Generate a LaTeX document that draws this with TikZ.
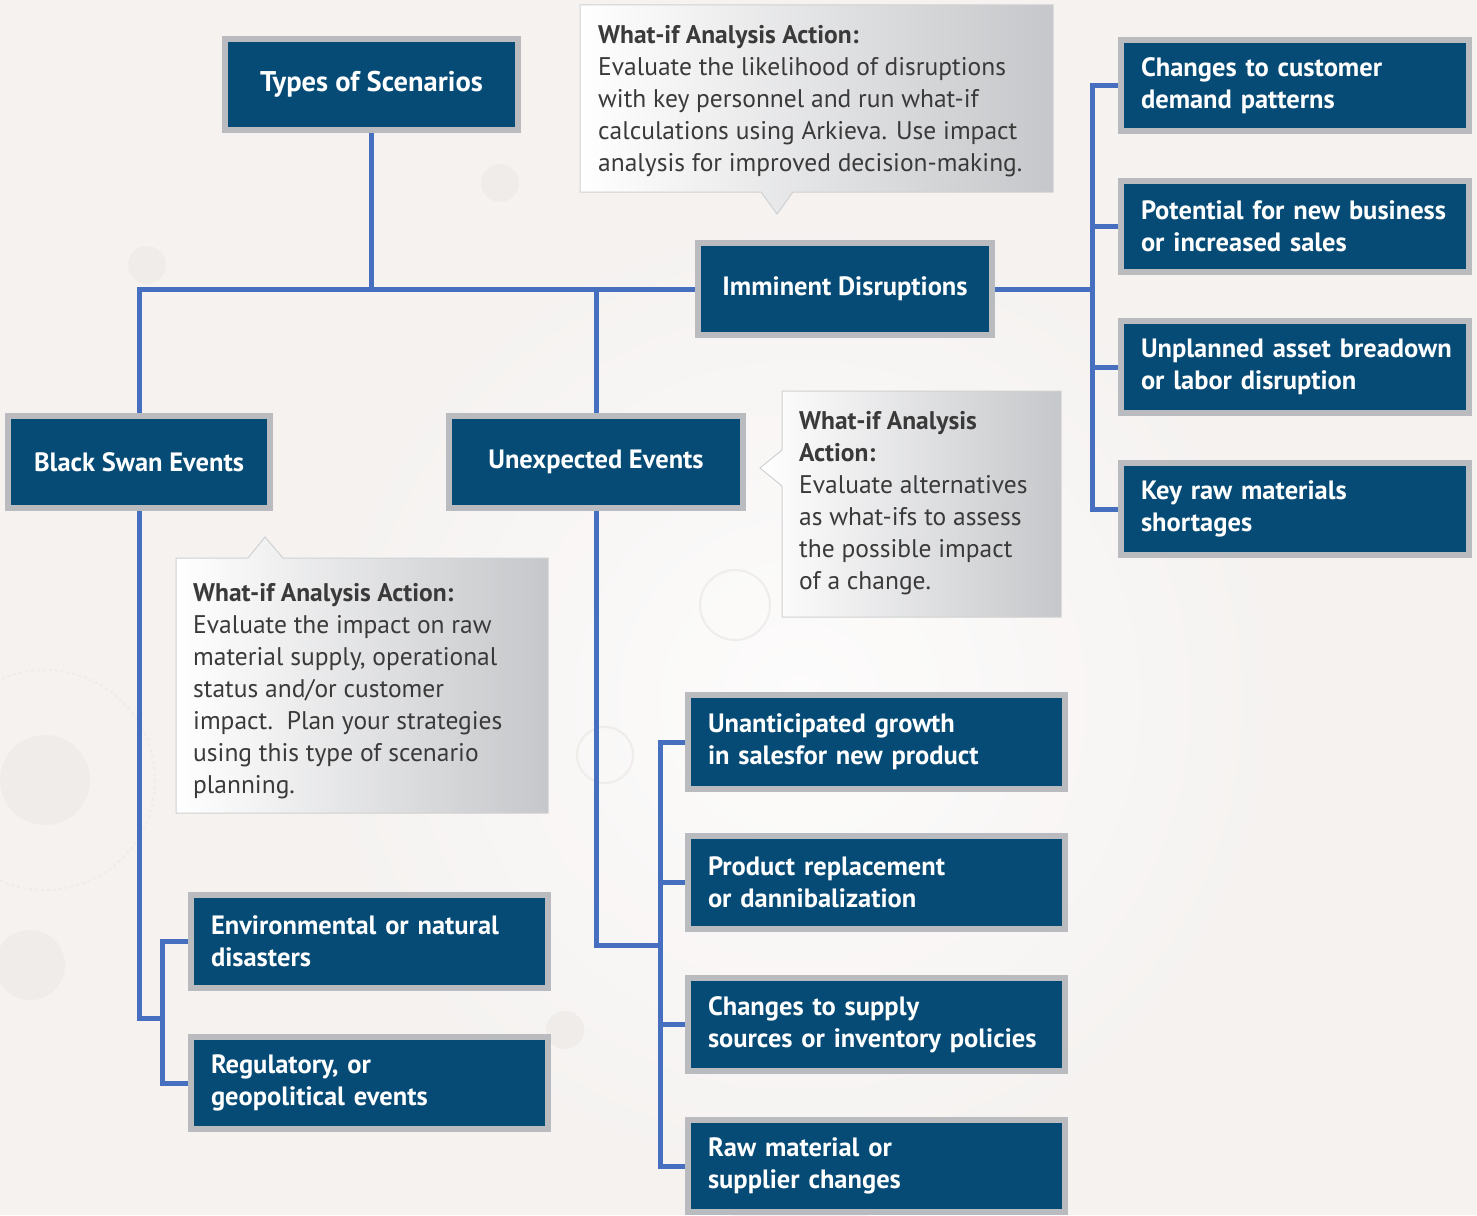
\documentclass[tikz,border=0pt]{standalone}
\usepackage{fontspec}
\setmainfont{PT Sans}
\usetikzlibrary{calc}
\definecolor{boxblue}{HTML}{054B76}
\definecolor{boxgray}{HTML}{B9BBBF}
\definecolor{linkblue}{HTML}{4670BF}
\definecolor{calltxt}{HTML}{3A3A3A}
\definecolor{callgray}{HTML}{C6C7CA}
\definecolor{callline}{HTML}{D0D1D3}
\definecolor{bgcol}{HTML}{F5F2F0}
\definecolor{decor}{HTML}{EFECEA}
\pgfdeclarelayer{background}
\pgfdeclarelayer{links}
\pgfsetlayers{background,links,main}
\newcommand\bxl[6]{%
  \pgfmathsetmacro\bw{#4-#2-6-40}\pgfmathsetmacro\bh{#5-#3-6}%
  \node[bx, text width=\bw pt, minimum height=\bh pt, inner xsep=20pt, align=left] (#1) at ({(#2+#4)/2},{(#3+#5)/2}) {#6};}
\newcommand\bxc[6]{%
  \pgfmathsetmacro\bw{#4-#2-6}\pgfmathsetmacro\bh{#5-#3-6}%
  \node[bx, minimum width=\bw pt, minimum height=\bh pt, align=center] (#1) at ({(#2+#4)/2},{(#3+#5)/2}) {#6};}
\begin{document}
\begin{tikzpicture}[x=1pt,y=-1pt,
  bx/.style={draw=boxgray, line width=6pt, fill=boxblue, text=white,
    font=\fontsize{26.5}{32}\selectfont\bfseries, inner sep=0pt},
  link/.style={draw=linkblue, line width=5pt},
  calltext/.style={anchor=north west, inner sep=0pt, align=left, text=calltxt,
    font=\fontsize{25.5}{32}\selectfont},
  callshape/.style={left color=white, right color=callgray, draw=callline, line width=1pt},
]
\useasboundingbox (0,0) rectangle (1477,1215);
\begin{pgfonlayer}{background}
  \fill[bgcol] (0,0) rectangle (1477,1215);
  \shade[inner color=white, outer color=bgcol, opacity=0.8] (800,700) circle (520);
  \draw[decor, line width=2pt, dashed] (45,780) circle (110);
  \fill[decor] (45,780) circle (45);
  \draw[decor, line width=2pt] (605,755) circle (28);
  \draw[decor, line width=2pt] (735,605) circle (35);
  \fill[decor] (500,183) circle (19);
  \fill[decor] (147,265) circle (19);
  \fill[decor] (565,1030) circle (19);
  \fill[decor] (30,965) circle (35);
\end{pgfonlayer}

% boxes
\bxc{types}{222}{36}{521}{133}{\fontsize{28.5}{32}\selectfont Types of Scenarios}
\bxc{imm}{695}{240}{995}{338}{Imminent Disruptions}
\bxc{bs}{5}{413}{273}{511}{Black Swan Events}
\bxc{ue}{446}{413}{746}{511}{Unexpected Events}

\bxl{r1}{1118}{37}{1472}{134}{Changes to customer\\demand patterns}
\bxl{r2}{1118}{178}{1472}{275}{Potential for new business\\or increased sales}
\bxl{r3}{1118}{318}{1472}{416}{\mbox{Unplanned asset breadown}\\or labor disruption}
\bxl{r4}{1118}{460}{1472}{558}{Key raw materials\\shortages}

\bxl{m1}{685}{692}{1068}{792}{Unanticipated growth\\in salesfor new product}
\bxl{m2}{685}{833}{1068}{932}{Product replacement\\or dannibalization}
\bxl{m3}{685}{975}{1068}{1074}{Changes to supply\\sources or inventory policies}
\bxl{m4}{685}{1117}{1068}{1215}{Raw material or\\supplier changes}

\bxl{env}{188}{892}{551}{991}{Environmental or natural\\disasters}
\bxl{reg}{188}{1034}{551}{1132}{Regulatory, or\\geopolitical events}

% callouts
\shade[callshape] (580,5) -- (1053,5) -- (1053,192) -- (793,192) -- (777,214) -- (761,192) -- (580,192) -- cycle;
\node[calltext] (c1) at (598,25) {\textbf{What-if Analysis Action:}\\Evaluate the likelihood of disruptions\\with key personnel and run what-if\\calculations using Arkieva. Use impact\\analysis for improved decision-making.};

\shade[callshape] (782,391) -- (1061,391) -- (1061,617) -- (782,617) -- (782,486) -- (760,468) -- (782,450) -- cycle;
\node[calltext] (c2) at (799,411) {\textbf{What-if Analysis}\\\textbf{Action:}\\Evaluate alternatives\\as what-ifs to assess\\the possible impact\\of a change.};

\shade[callshape] (176,558) -- (248,558) -- (265,537) -- (283,558) -- (548,558) -- (548,813) -- (176,813) -- cycle;
\node[calltext] (c3) at (193,583) {\textbf{What-if Analysis Action:}\\Evaluate the impact on raw\\material supply, operational\\status and/or customer\\impact.\ \ Plan your strategies\\using this type of scenario\\planning.};

% connectors
\coordinate (rbus) at (1092,289);
\coordinate (lbus) at (162,1018);
\coordinate (mbus) at (660,945);
\begin{pgfonlayer}{links}
  \draw[link] (types.south) -- (types.south |- imm.west);
  \draw[link] (bs.north) |- (imm.west);
  \draw[link] (ue.north) -- (ue.north |- imm.west);
  \draw[link] (imm.east) -- (rbus);
  \draw[link] (r1.west) -- (rbus |- r1.west) -- (rbus |- r4.west) -- (r4.west);
  \draw[link] (rbus |- r2.west) -- (r2.west);
  \draw[link] (rbus |- r3.west) -- (r3.west);
  \draw[link] (bs.south) |- (lbus);
  \draw[link] (env.west) -- (lbus |- env.west) -- (lbus |- reg.west) -- (reg.west);
  \draw[link] (ue.south) |- (mbus);
  \draw[link] (m1.west) -- (mbus |- m1.west) -- (mbus |- m4.west) -- (m4.west);
  \draw[link] (mbus |- m2.west) -- (m2.west);
  \draw[link] (mbus |- m3.west) -- (m3.west);
\end{pgfonlayer}
\end{tikzpicture}
\end{document}
